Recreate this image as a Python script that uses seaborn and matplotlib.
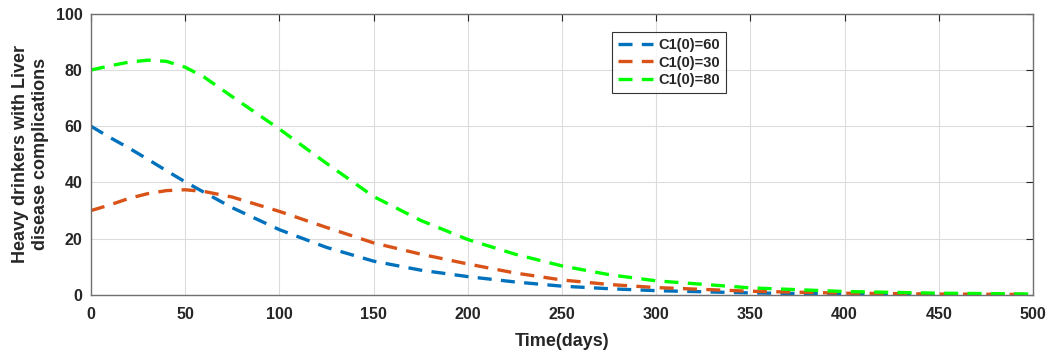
import numpy as np
import pandas as pd

import matplotlib
matplotlib.use("Agg")
import matplotlib.pyplot as plt
import seaborn as sns

# time points (days) and curve values
days = [0, 10, 20, 30, 40, 50, 60, 75, 100, 125, 150, 175, 200, 225, 250, 275, 300, 350, 400, 450, 500]
c60 = [60, 56, 52.3, 48.3, 44.2, 40.2, 36.5, 31, 23.2, 16.9, 12, 8.8, 6.5, 4.6, 3.1, 2.2, 1.5, 0.7, 0.3, 0.15, 0.1]
c30 = [30, 32, 34.3, 36, 37.1, 37.4, 36.8, 34.8, 29.7, 24, 18.5, 14.5, 11, 7.8, 5.3, 3.7, 2.6, 1.3, 0.6, 0.3, 0.15]
c80 = [80, 81.5, 82.8, 83.5, 83.1, 81, 77.5, 70.5, 59, 46.8, 35, 26.5, 19.7, 14.5, 10.3, 7.2, 5, 2.5, 1.2, 0.6, 0.3]
labels = ["C1(0)=60", "C1(0)=30", "C1(0)=80"]
colors = ["#0072BD", "#D95319", "#00FF00"]

df = pd.concat([
    pd.DataFrame({"t": days, "C": vals, "case": lab})
    for vals, lab in zip([c60, c30, c80], labels)
])

sns.set_style("white")
plt.rcParams["font.family"] = ["Liberation Sans", "DejaVu Sans"]
plt.rcParams["font.weight"] = "bold"

fig = plt.figure(figsize=(10.46, 3.54), dpi=100)
ax = fig.add_axes([0.087, 0.167, 0.9005, 0.794])

sns.lineplot(data=df, x="t", y="C", hue="case", style="case",
             palette=dict(zip(labels, colors)),
             dashes=dict(zip(labels, [(4.2, 2.8)] * 3)),
             linewidth=2.4, ax=ax)

ax.set_xlim(0, 500)
ax.set_ylim(0, 100)
ax.set_xticks(range(0, 501, 50))
ax.set_yticks(range(0, 101, 20))
ax.grid(True, color="#dcdcdc", linewidth=0.8)
ax.tick_params(direction="in", length=5, labelsize=11.5, width=0.8,
               top=True, right=True, colors="#262626")
ax.tick_params(axis="x", pad=9)
ax.tick_params(axis="y", pad=6)
for lab in ax.get_xticklabels() + ax.get_yticklabels():
    lab.set_fontweight("bold")
for s in ax.spines.values():
    s.set_visible(True)
    s.set_color("#707070")
    s.set_linewidth(1.0)

ax.set_xlabel("Time(days)", fontsize=13, fontweight="bold", labelpad=8)
ax.set_ylabel("Heavy drinkers with Liver\ndisease complications",
              fontsize=13, fontweight="bold", labelpad=5)

leg = ax.legend(loc="upper left", bbox_to_anchor=(0.553, 0.935),
                borderaxespad=0,
                prop={"weight": "bold", "size": 10.5}, frameon=True,
                fancybox=False, edgecolor="black", handlelength=2.4,
                borderpad=0.4, labelspacing=0.25, handletextpad=0.4)
leg.get_frame().set_linewidth(0.8)

fig.savefig("out.png", dpi=100)
